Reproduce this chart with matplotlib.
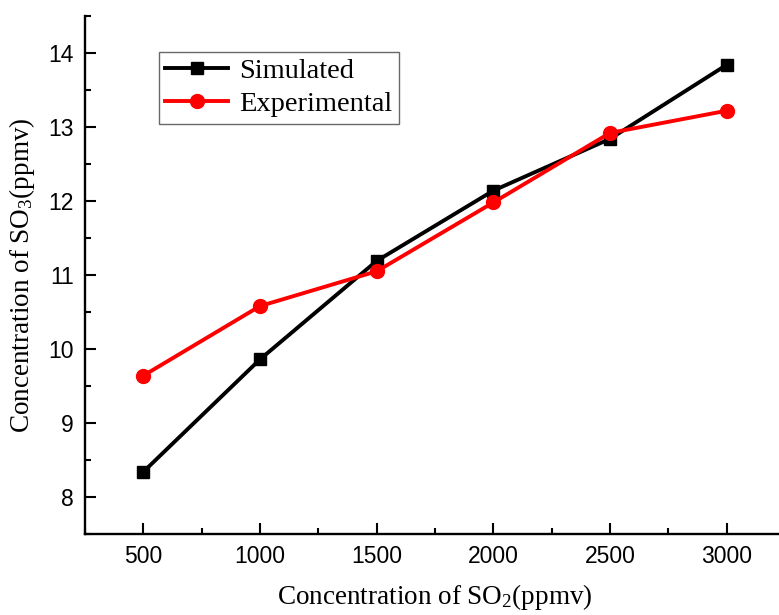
import matplotlib
matplotlib.use("Agg")
import matplotlib.pyplot as plt
from matplotlib.ticker import MultipleLocator

plt.rcParams['mathtext.fontset'] = 'custom'
plt.rcParams['mathtext.rm'] = 'Liberation Serif'
plt.rcParams['mathtext.it'] = 'Liberation Serif:italic'
plt.rcParams['font.family'] = 'Liberation Sans'

so2 = [500, 1000, 1500, 2000, 2500, 3000]
simulated = [8.34, 9.86, 11.19, 12.14, 12.84, 13.84]
experimental = [9.64, 10.58, 11.05, 11.98, 12.92, 13.22]

fig = plt.figure(figsize=(7.79, 6.15), dpi=100)
ax = fig.add_axes([85 / 779, 1 - 534 / 615, 700 / 779, 518 / 615])

ax.plot(so2, simulated, color='black', lw=2.8, marker='s', ms=8.5,
        label='Simulated', zorder=3)
ax.plot(so2, experimental, color='red', lw=2.8, marker='o', ms=10,
        label='Experimental', zorder=4)

ax.set_xlim(250, 3250)
ax.set_ylim(7.5, 14.5)
ax.xaxis.set_major_locator(MultipleLocator(500))
ax.xaxis.set_minor_locator(MultipleLocator(250))
ax.yaxis.set_major_locator(MultipleLocator(1))
ax.yaxis.set_minor_locator(MultipleLocator(0.5))

for s in ('top', 'right'):
    ax.spines[s].set_visible(False)
for s in ('left', 'bottom'):
    ax.spines[s].set_linewidth(1.7)

ax.tick_params(which='major', direction='in', length=8, width=1.5,
               labelsize=16.5, pad=8)
ax.tick_params(which='minor', direction='in', length=4.5, width=1.5)

ax.set_xlabel(r'Concentration of SO$_2$(ppmv)', fontfamily='Liberation Serif',
              fontsize=19.5, labelpad=10)
ax.set_ylabel(r'Concentration of SO$_3$(ppmv)', fontfamily='Liberation Serif',
              fontsize=19.5, labelpad=8)

leg = ax.legend(loc='upper left', bbox_to_anchor=(159 / 779, 1 - 52 / 615),
                bbox_transform=fig.transFigure, borderaxespad=0,
                prop={'family': 'Liberation Serif', 'size': 20.5},
                frameon=True, fancybox=False, edgecolor='#444444',
                handlelength=2.2, handletextpad=0.4, labelspacing=0.25,
                borderpad=0.22)
leg.get_frame().set_linewidth(1.0)

fig.savefig('out.png', dpi=100)
